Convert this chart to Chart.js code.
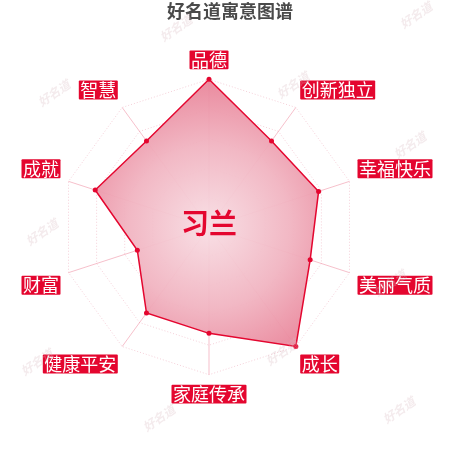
<!DOCTYPE html>
<html>
<head>
<meta charset="utf-8">
<script src="https://cdn.jsdelivr.net/npm/chart.js@4"></script>
<style>
  html, body { margin: 0; padding: 0; background: #fff; }
  #wrap { width: 450px; height: 450px; }
</style>
</head>
<body>
<div id="wrap"><canvas id="meaningChart"></canvas></div>
<script>
const chartTitle = "好名道寓意图谱";
const personName = "习兰";
const aspects = ["品德", "创新独立", "幸福快乐", "美丽气质", "成长", "家庭传承", "健康平安", "财富", "成就", "智慧"];
const scores = [100, 72, 78, 72, 100, 72, 72, 51, 81, 72];
const scoreMax = 100;
const ringStep = 20;

const FONT = "'Noto Sans CJK SC', 'Noto Sans', sans-serif";
const RED = "#e4062f";

// radial pink fill, lighter in the middle
function fillGradient(context) {
  const scale = context.chart.scales.r;
  if (!scale || !scale.drawingArea) return "rgba(236,140,160,0.7)";
  const g = context.chart.ctx.createRadialGradient(
    scale.xCenter, scale.yCenter, 0,
    scale.xCenter, scale.yCenter, scale.drawingArea
  );
  g.addColorStop(0, "rgba(248,222,228,0.95)");
  g.addColorStop(0.55, "rgba(241,180,193,0.95)");
  g.addColorStop(1, "rgba(233,132,153,0.95)");
  return g;
}

// name in the middle of the radar
const centerName = {
  id: "centerName",
  afterDatasetsDraw(chart) {
    const s = chart.scales.r;
    const ctx = chart.ctx;
    ctx.save();
    ctx.font = "bold 28px " + FONT;
    ctx.fillStyle = RED;
    ctx.textAlign = "center";
    ctx.textBaseline = "middle";
    ctx.fillText(personName, s.xCenter, s.yCenter - 4);
    ctx.restore();
  }
};

// faint "好名道" stamps scattered around
const watermark = {
  id: "watermark",
  afterDraw(chart) {
    const spots = [[54, 93], [176, 28], [416, 15], [293, 85], [410, 145], [42, 232],
                   [390, 283], [37, 362], [282, 352], [159, 418], [399, 410]];
    const ctx = chart.ctx;
    ctx.save();
    ctx.font = "italic bold 12px " + FONT;
    ctx.fillStyle = "rgba(220,190,196,0.3)";
    ctx.textAlign = "center";
    ctx.textBaseline = "middle";
    spots.forEach(p => {
      ctx.save();
      ctx.translate(p[0], p[1]);
      ctx.rotate(-0.6);
      ctx.fillText("好名道", 0, 0);
      ctx.restore();
    });
    ctx.restore();
  }
};

new Chart(document.getElementById("meaningChart"), {
  type: "radar",
  data: {
    labels: aspects,
    datasets: [{
      label: personName,
      data: scores,
      backgroundColor: fillGradient,
      borderColor: RED,
      borderWidth: 1.5,
      pointRadius: 2.5,
      pointBackgroundColor: RED,
      pointBorderWidth: 0,
      fill: true
    }]
  },
  options: {
    responsive: true,
    maintainAspectRatio: false,
    animation: false,
    layout: { padding: { top: 0, bottom: 18, left: 7, right: -3 } },
    plugins: {
      legend: { display: false },
      tooltip: { enabled: false },
      title: {
        display: true,
        text: chartTitle,
        color: "#4a4a4a",
        font: { family: FONT, size: 18, weight: "bold" },
        padding: { top: 0, bottom: 2 }
      }
    },
    scales: {
      r: {
        min: 0,
        max: scoreMax,
        ticks: { display: false, stepSize: ringStep },
        grid: { color: "rgba(232,150,170,0.45)", lineWidth: 1 },
        border: { dash: [1, 2] },
        angleLines: { color: "rgba(238,140,160,0.55)", lineWidth: 1 },
        pointLabels: {
          color: "#fff",
          font: { family: FONT, size: 18, lineHeight: 1.05 },
          backdropColor: RED,
          backdropPadding: { top: 0, bottom: 0, left: 1.5, right: 1.5 },
          borderRadius: 1,
          padding: 10
        }
      }
    }
  },
  plugins: [centerName, watermark]
});
</script>
</body>
</html>
